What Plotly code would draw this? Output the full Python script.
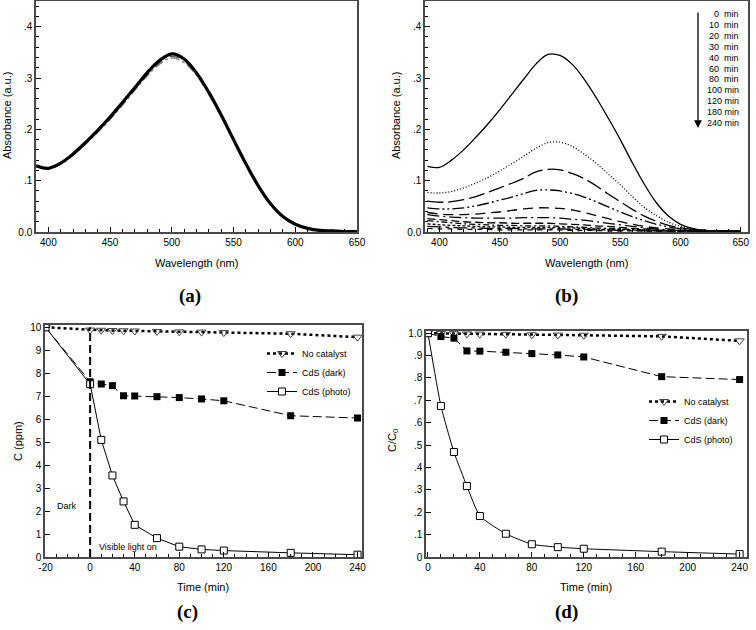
import plotly.graph_objects as go

# ---------------- data ----------------
wavelength = [390, 400, 410, 420, 430, 440, 450, 460, 470, 480, 490, 500, 510,
              520, 530, 540, 550, 560, 570, 580, 590, 600, 610, 620, 630, 640, 650]

# panel (a): dark adsorption spectra (nearly identical)
abs_a_1 = [0.129, 0.124, 0.134, 0.152, 0.174, 0.198, 0.224, 0.252, 0.281, 0.310, 0.334, 0.347, 0.337,
           0.310, 0.272, 0.228, 0.180, 0.133, 0.090, 0.055, 0.030, 0.015, 0.007, 0.003, 0.002, 0.001, 0.001]
abs_a_2 = [0.128, 0.123, 0.133, 0.150, 0.172, 0.196, 0.221, 0.249, 0.278, 0.306, 0.330, 0.342, 0.333,
           0.307, 0.270, 0.226, 0.179, 0.132, 0.090, 0.055, 0.030, 0.015, 0.007, 0.003, 0.002, 0.001, 0.001]
abs_a_3 = [0.128, 0.123, 0.132, 0.149, 0.171, 0.194, 0.219, 0.247, 0.276, 0.304, 0.327, 0.339, 0.330,
           0.305, 0.268, 0.225, 0.178, 0.131, 0.089, 0.054, 0.029, 0.015, 0.007, 0.003, 0.002, 0.001, 0.001]

# panel (b): spectra vs irradiation time
time_labels_b = ["0  min", "10  min", "20  min", "30  min", "40  min", "60  min",
                 "80  min", "100 min", "120 min", "180 min", "240 min"]
abs_0 = [0.128, 0.126, 0.140, 0.160, 0.184, 0.210, 0.238, 0.268, 0.298, 0.327, 0.346, 0.344, 0.327,
         0.298, 0.262, 0.222, 0.180, 0.135, 0.093, 0.057, 0.031, 0.015, 0.007, 0.003, 0.002, 0.001, 0.001]
abs_10 = [0.077, 0.076, 0.079, 0.086, 0.095, 0.106, 0.119, 0.133, 0.148, 0.163, 0.174, 0.175, 0.167,
          0.152, 0.134, 0.113, 0.092, 0.069, 0.048, 0.032, 0.019, 0.011, 0.006, 0.003, 0.002, 0.002, 0.002]
abs_20 = [0.060, 0.058, 0.059, 0.063, 0.069, 0.077, 0.086, 0.095, 0.105, 0.117, 0.122, 0.121, 0.114,
          0.104, 0.090, 0.074, 0.059, 0.044, 0.031, 0.021, 0.013, 0.008, 0.005, 0.003, 0.002, 0.002, 0.002]
abs_30 = [0.047, 0.045, 0.045, 0.047, 0.051, 0.056, 0.062, 0.068, 0.075, 0.081, 0.082, 0.080, 0.075,
          0.068, 0.059, 0.049, 0.039, 0.030, 0.022, 0.015, 0.010, 0.006, 0.004, 0.003, 0.002, 0.002, 0.002]
abs_40 = [0.038, 0.035, 0.034, 0.034, 0.035, 0.037, 0.039, 0.042, 0.045, 0.047, 0.047, 0.046, 0.043,
          0.038, 0.032, 0.026, 0.020, 0.015, 0.011, 0.008, 0.006, 0.004, 0.003, 0.002, 0.002, 0.001, 0.001]
abs_60 = [0.034, 0.031, 0.029, 0.028, 0.027, 0.027, 0.027, 0.027, 0.028, 0.028, 0.028, 0.027, 0.025,
          0.023, 0.020, 0.017, 0.014, 0.011, 0.008, 0.006, 0.004, 0.003, 0.002, 0.002, 0.001, 0.001, 0.001]
abs_80 = [0.026, 0.024, 0.022, 0.020, 0.019, 0.018, 0.018, 0.017, 0.017, 0.017, 0.017, 0.016, 0.015,
          0.014, 0.012, 0.011, 0.009, 0.007, 0.006, 0.004, 0.003, 0.002, 0.002, 0.001, 0.001, 0.001, 0.001]
abs_100 = [0.022, 0.020, 0.018, 0.016, 0.015, 0.014, 0.013, 0.013, 0.012, 0.012, 0.012, 0.011, 0.010,
           0.009, 0.008, 0.007, 0.006, 0.005, 0.004, 0.003, 0.002, 0.002, 0.001, 0.001, 0.001, 0.001, 0.001]
abs_120 = [0.016, 0.014, 0.013, 0.012, 0.011, 0.010, 0.010, 0.009, 0.009, 0.009, 0.009, 0.008, 0.008,
           0.007, 0.006, 0.005, 0.005, 0.004, 0.003, 0.003, 0.002, 0.002, 0.001, 0.001, 0.001, 0.001, 0.001]
abs_180 = [0.011, 0.010, 0.009, 0.008, 0.008, 0.007, 0.007, 0.007, 0.006, 0.006, 0.006, 0.006, 0.005,
           0.005, 0.004, 0.004, 0.003, 0.003, 0.002, 0.002, 0.002, 0.001, 0.001, 0.001, 0.001, 0.001, 0.001]
abs_240 = [0.007, 0.006, 0.006, 0.005, 0.005, 0.005, 0.004, 0.004, 0.004, 0.004, 0.004, 0.004, 0.003,
           0.003, 0.003, 0.002, 0.002, 0.002, 0.002, 0.001, 0.001, 0.001, 0.001, 0.001, 0.001, 0.001, 0.001]

# panel (c): concentration (ppm), dark period from -20 to 0 min
time_c = [-20, 0, 10, 20, 30, 40, 60, 80, 100, 120, 180, 240]
c_no_catalyst = [10.0, 9.88, 9.87, 9.86, 9.85, 9.84, 9.82, 9.80, 9.79, 9.77, 9.72, 9.57]
c_cds_dark = [10.0, 7.63, 7.53, 7.46, 7.02, 7.01, 6.98, 6.94, 6.88, 6.80, 6.15, 6.05]
c_cds_photo = [10.0, 7.52, 5.10, 3.55, 2.42, 1.40, 0.82, 0.45, 0.33, 0.28, 0.18, 0.10]
x_ticks_c = [-20, 0, 40, 80, 120, 160, 200, 240]

# panel (d): C/C0
time_d = [0, 10, 20, 30, 40, 60, 80, 100, 120, 180, 240]
r_no_catalyst = [1.0, 0.999, 0.998, 0.997, 0.996, 0.995, 0.993, 0.992, 0.991, 0.986, 0.966]
r_cds_dark = [1.0, 0.985, 0.978, 0.921, 0.920, 0.915, 0.909, 0.903, 0.894, 0.806, 0.793]
r_cds_photo = [1.0, 0.675, 0.469, 0.317, 0.183, 0.104, 0.057, 0.044, 0.037, 0.024, 0.013]

series_names = ["No catalyst", "CdS (dark)", "CdS (photo)"]

# ---------------- layout helpers ----------------
W, H = 756, 630
def px(x):
    return x / W
def py(y):
    return 1 - y / H

FONT = "Liberation Sans, Arial, sans-serif"
FRAME = "#4a4a4a"

# dark period stretched on panel (c): -20 min drawn over 40 units
def warp(t):
    return 2 * t if t < 0 else t

fig = go.Figure()

# panel (a)
a_styles = [("dashdot", 1.3, "#777777"), ("dash", 1.3, "#555555"), ("solid", 3.2, "#000000")]
for arr, (dash, w, col) in zip([abs_a_3, abs_a_2, abs_a_1], a_styles):
    fig.add_trace(go.Scatter(x=wavelength, y=arr, mode="lines",
                             line=dict(color=col, width=w, dash=dash, shape="spline", smoothing=1.0),
                             xaxis="x", yaxis="y", showlegend=False))

# panel (b)
b_series = [abs_0, abs_10, abs_20, abs_30, abs_40, abs_60, abs_80, abs_100, abs_120, abs_180, abs_240]
b_dashes = ["solid", "1px,2px", "16px,5px", "12px,3px,2px,3px,2px,3px", "10px,6px", "12px,4px,2px,4px",
            "8px,4px", "6px,3px,2px,3px", "3px,2px", "14px,4px,4px,4px", "5px,5px"]
for arr, dash, lab in zip(b_series, b_dashes, time_labels_b):
    fig.add_trace(go.Scatter(x=wavelength, y=arr, mode="lines",
                             line=dict(color="#000000", width=1.3, dash=dash,
                                       shape="spline", smoothing=1.0),
                             xaxis="x2", yaxis="y2", showlegend=False, name=lab))

# panel (c)
xc = [warp(t) for t in time_c]
fig.add_trace(go.Scatter(x=xc, y=c_no_catalyst, mode="lines+markers", name=series_names[0],
                         line=dict(color="#000000", width=2.5, dash="dot"),
                         marker=dict(symbol="triangle-down-open", size=8, color="#444444", line=dict(width=1)),
                         xaxis="x3", yaxis="y3", legend="legend"))
fig.add_trace(go.Scatter(x=xc, y=c_cds_dark, mode="lines+markers", name=series_names[1],
                         line=dict(color="#000000", width=1, dash="9px,4px"),
                         marker=dict(symbol="square", size=7, color="#000000"),
                         xaxis="x3", yaxis="y3", legend="legend"))
fig.add_trace(go.Scatter(x=xc, y=c_cds_photo, mode="lines+markers", name=series_names[2],
                         line=dict(color="#000000", width=1),
                         marker=dict(symbol="square", size=7, color="#ffffff", line=dict(color="#000000", width=1)),
                         xaxis="x3", yaxis="y3", legend="legend"))

# panel (d)
fig.add_trace(go.Scatter(x=time_d, y=r_no_catalyst, mode="lines+markers", name=series_names[0],
                         line=dict(color="#000000", width=2.5, dash="dot"),
                         marker=dict(symbol="triangle-down-open", size=8, color="#444444", line=dict(width=1)),
                         xaxis="x4", yaxis="y4", legend="legend2"))
fig.add_trace(go.Scatter(x=time_d, y=r_cds_dark, mode="lines+markers", name=series_names[1],
                         line=dict(color="#000000", width=1, dash="9px,4px"),
                         marker=dict(symbol="square", size=7, color="#000000"),
                         xaxis="x4", yaxis="y4", legend="legend2"))
fig.add_trace(go.Scatter(x=time_d, y=r_cds_photo, mode="lines+markers", name=series_names[2],
                         line=dict(color="#000000", width=1, shape="spline", smoothing=0.5),
                         marker=dict(symbol="square", size=7, color="#ffffff", line=dict(color="#000000", width=1)),
                         xaxis="x4", yaxis="y4", legend="legend2"))

# vertical dashed line at light on (panel c)
fig.add_shape(type="line", xref="x3", yref="y3", x0=0, x1=0, y0=0, y1=10,
              line=dict(color="#000000", width=2, dash="8px,4px"))

def axis_common():
    return dict(showline=True, linecolor=FRAME, linewidth=1.5, mirror=True, automargin=False,
                ticks="inside", ticklen=5, tickcolor="#000000", tickwidth=1,
                showgrid=False, zeroline=False,
                tickfont=dict(family=FONT, size=10, color="#000000"))

ytop_ab, ybot_ab = 1, 232
ytop_cd, ybot_cd = 325, 557

lay = dict(
    width=W, height=H, margin=dict(l=0, r=0, t=0, b=0, autoexpand=False),
    paper_bgcolor="white", plot_bgcolor="white",
    font=dict(family=FONT, size=10, color="#000000"),
)
lay["xaxis"] = dict(axis_common(), domain=[px(36), px(357)], range=[390, 650], anchor="y",
                    tickvals=[400, 450, 500, 550, 600, 650],
                    minor=dict(dtick=10, tick0=390, ticks="inside", ticklen=3, tickcolor="#000000"))
lay["yaxis"] = dict(axis_common(), domain=[py(ybot_ab), py(ytop_ab)], range=[0, 0.45], anchor="x",
                    tickvals=[0, 0.1, 0.2, 0.3, 0.4], ticktext=["0.0", ".1", ".2", ".3", ".4"],
                    minor=dict(dtick=0.02, ticks="inside", ticklen=3, tickcolor="#000000"))
lay["xaxis2"] = dict(axis_common(), domain=[px(425), px(748)], range=[388, 656], anchor="y2",
                     tickvals=[400, 450, 500, 550, 600, 650],
                     minor=dict(dtick=10, tick0=390, ticks="inside", ticklen=3, tickcolor="#000000"))
lay["yaxis2"] = dict(axis_common(), domain=[py(ybot_ab), py(ytop_ab)], range=[0, 0.45], anchor="x2",
                     tickvals=[0, 0.1, 0.2, 0.3, 0.4], ticktext=["0.0", ".1", ".2", ".3", ".4"],
                     minor=dict(dtick=0.02, ticks="inside", ticklen=3, tickcolor="#000000"))
lay["xaxis3"] = dict(axis_common(), domain=[px(45), px(362)], range=[-40.5, 244], anchor="y3",
                     tickvals=[warp(t) for t in x_ticks_c], ticktext=[str(t) for t in x_ticks_c],
                     minor=dict(dtick=10, tick0=0, ticks="inside", ticklen=3, tickcolor="#000000"))
lay["yaxis3"] = dict(axis_common(), domain=[py(ybot_cd), py(ytop_cd)], range=[0, 10.1], anchor="x3",
                     tickvals=list(range(0, 11)))
lay["xaxis4"] = dict(axis_common(), domain=[px(426), px(747)], range=[-1.5, 245.7], anchor="y4",
                     tickvals=[0, 40, 80, 120, 160, 200, 240],
                     minor=dict(dtick=10, tick0=0, ticks="inside", ticklen=3, tickcolor="#000000"))
lay["yaxis4"] = dict(axis_common(), domain=[py(ybot_cd), py(331)], range=[0, 1.01], anchor="x4",
                     tickvals=[0, 0.1, 0.2, 0.3, 0.4, 0.5, 0.6, 0.7, 0.8, 0.9, 1.0],
                     ticktext=["0", ".1", ".2", ".3", ".4", ".5", ".6", ".7", ".8", ".9", "1.0"])
lay["legend"] = dict(x=px(262), y=py(339), xanchor="left", yanchor="top", bgcolor="rgba(0,0,0,0)",
                     font=dict(family=FONT, size=9), itemwidth=30, tracegroupgap=0)
lay["legend2"] = dict(x=px(644), y=py(387), xanchor="left", yanchor="top", bgcolor="rgba(0,0,0,0)",
                      font=dict(family=FONT, size=9), itemwidth=30, tracegroupgap=0)
fig.update_layout(**lay)

ann = []
def text(x, y, s, size=11, family=FONT, xanchor="center", **kw):
    d = dict(x=px(x), y=py(y), xref="paper", yref="paper", text=s, showarrow=False,
             xanchor=xanchor, yanchor="middle",
             font=dict(family=family, size=size, color="#000000"))
    d.update(kw)
    ann.append(d)

# axis titles
text(196, 263, "Wavelength (nm)")
text(586, 263, "Wavelength (nm)")
text(203, 587, "Time (min)")
text(586, 587, "Time (min)")
text(7, 116, "Absorbance (a.u.)", textangle=-90)
text(396, 116, "Absorbance (a.u.)", textangle=-90)
text(18, 441, "C (ppm)", textangle=-90)
text(393, 441, "C/C<sub>0</sub>", textangle=-90)

# panel labels
for lbl, x, y in [("(a)", 190, 296), ("(b)", 566, 296), ("(c)", 187, 612), ("(d)", 566, 612)]:
    text(x, y, "<b>" + lbl + "</b>", size=19, family="Liberation Serif, Times New Roman, serif")

# panel (c) notes
text(67, 506, "Dark", size=9)
text(97, 547, "Visible light on", size=9, xanchor="left")

# panel (b) time labels and arrow
for i, lab in enumerate(time_labels_b):
    text(741, 14 + i * 10.9, lab, size=9, xanchor="right")
ann.append(dict(x=px(698), y=py(128), ax=0, ay=-117, xref="paper", yref="paper",
                text="", showarrow=True, arrowhead=2,
                arrowsize=1.2, arrowwidth=1.3, arrowcolor="#000000"))

fig.update_layout(annotations=ann)
fig.write_html("out.html", config={"displayModeBar": False},
               post_script="document.body.style.margin='0px';document.body.style.overflow='hidden';")
